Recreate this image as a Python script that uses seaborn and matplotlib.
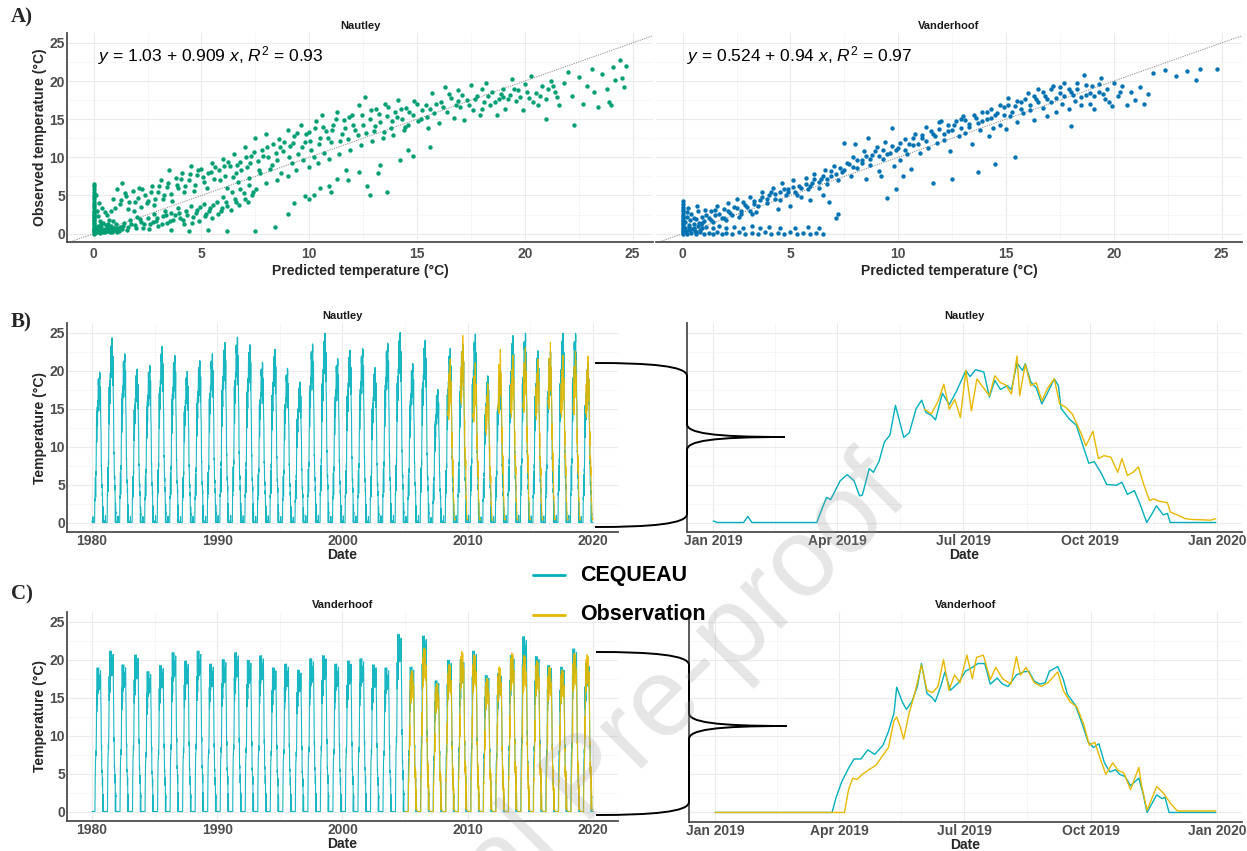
import numpy as np
import pandas as pd
import matplotlib
matplotlib.use("Agg")
import matplotlib.pyplot as plt
import matplotlib.dates as mdates
from matplotlib.lines import Line2D
from matplotlib.path import Path
from matplotlib.patches import PathPatch
import seaborn as sns

# ---- data ---------------------------------------------------------------
# A) observed vs predicted daily temperature (pred, obs)
nautley_pts = [
    (0, 0.0), (0, 0.15), (0, 0.3), (0, 0.45), (0, 0.6), (0, 0.8), (0, 1.0), (0, 1.2), (0, 1.4), (0, 1.6),
    (0, 1.8), (0, 2.0), (0, 2.2), (0, 2.4), (0, 2.6), (0, 2.8), (0, 3.0), (0, 3.3), (0, 3.6), (0, 3.9),
    (0, 4.2), (0, 4.5), (0, 4.8), (0, 5.1), (0, 5.4), (0, 5.8), (0, 6.2), (0, 6.5),
    (0.05, 0.1), (0.1, 0.4), (0.15, 0.2), (0.2, 0.7), (0.25, 0.3), (0.3, 0.1), (0.35, 0.9), (0.4, 0.5),
    (0.45, 0.2), (0.5, 0.6), (0.55, 1.1), (0.6, 0.3), (0.65, 0.8), (0.7, 0.5), (0.75, 0.2), (0.8, 1.0),
    (0.85, 0.6), (0.9, 0.3), (0.95, 0.8), (1.0, 0.5), (1.05, 1.2), (1.1, 0.7), (1.15, 0.4), (1.2, 0.9),
    (0.3, 1.6), (0.2, 2.3), (0.5, 2.8), (0.4, 3.4), (0.7, 1.8), (0.6, 2.5), (0.15, 3.0), (0.25, 4.0),
    (0.1, 5.0), (0.8, 2.9), (0.35, 1.3), (0.9, 1.6),
    (0.1, 0.8), (0.3, 0.6), (0.5, 0.2), (0.7, 0.9), (0.9, 0.5), (1.1, 0.2), (0.2, 1.0), (0.45, 1.4),
    (0.65, 1.2), (0.85, 0.2),
    (0.9, 4.6), (1.1, 5.8), (1.3, 6.6), (1.2, 3.9), (1.5, 4.9), (1.6, 3.2), (1.8, 5.6), (1.9, 4.2),
    (2.1, 6.0), (2.2, 3.5), (2.4, 5.0), (2.5, 4.3), (2.7, 6.3), (2.8, 3.8), (3.0, 5.4), (3.1, 7.0),
    (3.2, 4.6), (3.4, 6.1), (3.5, 8.4), (3.6, 5.2), (3.8, 7.3), (3.9, 6.0), (4.1, 8.0), (4.2, 5.5),
    (4.4, 7.0), (4.5, 8.8), (4.7, 6.4), (4.8, 7.7), (5.0, 8.5), (5.1, 6.8), (5.3, 7.9), (5.5, 9.3),
    (5.6, 7.2), (5.8, 8.4), (6.0, 9.8), (6.1, 7.6), (6.3, 8.9), (6.5, 10.4), (6.6, 8.0), (6.8, 9.4),
    (7.0, 11.3), (7.1, 8.7), (7.3, 10.2), (7.5, 12.6), (7.6, 9.5), (7.8, 11.0), (8.0, 13.0), (8.1, 10.1),
    (8.3, 11.7), (8.5, 9.6), (8.6, 12.4), (8.8, 10.8), (9.0, 13.6), (9.1, 11.5), (9.3, 12.8), (9.5, 10.4),
    (9.6, 14.2), (9.8, 12.0), (10.0, 13.3), (10.1, 11.0), (10.3, 14.8), (10.5, 12.5), (10.6, 15.6),
    (10.8, 13.4), (11.0, 12.0), (11.1, 14.3), (11.3, 16.0), (11.5, 13.0), (11.6, 14.9), (11.8, 12.4),
    (12.0, 15.5), (12.1, 13.6), (12.3, 16.8), (12.5, 14.2), (12.6, 17.9), (12.8, 15.0), (13.0, 13.5),
    (13.1, 16.3), (13.3, 14.6), (13.5, 17.0), (13.6, 15.4), (13.8, 13.9), (14.0, 16.0), (14.1, 17.5),
    (14.3, 15.0), (14.5, 16.5), (14.6, 14.3), (14.8, 15.6), (15.0, 17.0),
    (1.0, 3.4), (1.25, 4.4), (1.45, 5.3), (1.65, 4.1), (1.85, 3.0), (2.05, 4.7), (2.25, 5.8), (2.45, 4.0),
    (2.65, 5.5), (2.85, 4.6), (3.05, 6.2), (3.25, 5.0), (3.45, 6.7), (3.65, 4.3), (3.85, 6.4), (4.05, 7.2),
    (4.25, 6.3), (4.45, 7.8), (4.65, 5.6), (4.85, 8.3), (5.05, 7.4), (5.25, 6.0), (5.45, 8.1), (5.65, 8.7),
    (5.85, 7.0), (6.05, 8.8), (6.25, 9.4), (6.45, 7.4), (6.65, 9.0), (6.85, 8.3), (7.05, 10.0), (7.25, 9.2),
    (7.45, 10.7), (7.65, 8.4), (7.85, 10.2), (8.05, 11.4), (8.25, 9.0), (8.45, 10.6), (8.65, 11.3),
    (8.85, 12.0), (9.05, 10.0), (9.25, 11.9), (9.45, 13.2), (9.65, 11.3), (9.85, 13.0), (10.05, 12.2),
    (10.25, 13.8), (10.45, 11.8), (10.65, 14.0), (10.85, 12.6), (11.05, 13.6), (11.25, 15.0), (11.45, 12.2),
    (11.65, 13.9), (11.85, 15.3), (12.05, 14.2), (12.25, 12.9), (12.45, 15.6), (12.65, 13.2), (12.85, 16.2),
    (13.05, 14.1), (13.25, 15.7), (13.45, 13.3), (13.65, 16.6), (13.85, 14.7), (14.05, 15.3), (14.25, 16.4),
    (14.45, 14.0), (14.65, 15.9), (14.85, 17.4), (15.05, 14.8), (15.25, 16.2), (15.45, 15.3),
    (1.3, 0.6), (1.4, 1.4), (1.6, 0.9), (1.7, 1.8), (1.9, 1.1), (2.0, 2.2), (2.2, 1.5), (2.3, 0.8),
    (2.5, 2.0), (2.6, 1.2), (2.8, 2.6), (2.9, 1.7), (3.0, 1.0), (3.2, 2.3), (3.3, 3.0), (3.4, 1.4),
    (3.6, 2.7), (3.7, 1.8), (3.9, 3.3), (4.0, 2.1), (4.2, 1.2), (4.3, 2.9), (4.5, 3.6), (4.6, 2.2),
    (4.8, 3.1), (4.9, 1.6), (5.1, 3.9), (5.2, 2.6), (5.4, 3.3), (5.5, 2.0), (5.7, 4.2), (5.9, 3.0),
    (6.0, 4.8), (6.2, 3.6), (6.4, 5.4), (6.6, 4.1), (6.8, 5.9), (7.0, 4.6), (7.2, 6.4), (5.3, 0.5),
    (6.2, 0.4), (7.5, 0.3), (8.4, 0.9), (9.0, 2.6), (4.4, 0.3), (3.6, 0.5),
    (1.35, 1.0), (1.55, 0.5), (1.75, 1.3), (1.95, 0.7), (2.15, 1.9), (2.35, 1.2), (2.55, 0.6), (2.75, 1.5),
    (2.95, 2.1), (3.15, 1.2), (3.35, 2.5), (3.55, 1.6), (3.75, 2.4), (3.95, 2.7), (4.15, 1.8), (4.35, 2.5),
    (4.55, 1.4), (4.75, 2.7), (4.95, 3.5), (5.15, 2.3), (5.35, 2.9), (5.55, 3.7), (5.75, 2.6), (5.95, 3.4),
    (6.15, 4.1), (6.35, 3.1), (6.55, 4.6), (6.75, 3.7), (6.95, 5.3), (7.15, 4.2), (7.35, 5.0), (7.55, 5.8),
    (6.2, 6.0), (6.7, 6.8), (7.2, 7.3), (7.7, 7.9), (8.2, 8.5), (8.7, 8.0), (9.2, 9.2), (9.7, 9.6),
    (10.2, 10.1), (10.7, 10.6), (7.4, 5.5), (8.0, 6.6), (8.5, 7.0), (9.0, 7.6), (9.4, 8.3), (10.0, 8.7),
    (10.4, 9.2), (10.9, 9.8), (11.4, 10.5), (11.9, 11.0), (12.4, 11.6), (12.9, 12.1), (13.4, 12.5),
    (13.9, 12.9), (14.4, 13.6),
    (9.3, 4.0), (9.8, 4.9), (10.0, 4.5), (10.2, 5.1), (10.5, 6.0), (10.9, 6.2), (11.0, 5.5), (11.3, 7.2),
    (11.7, 8.3), (12.3, 8.1), (12.7, 6.2), (12.8, 5.1), (13.2, 7.9), (13.3, 9.0), (13.6, 5.5), (14.2, 9.6),
    (14.6, 11.0), (14.8, 10.2), (15.6, 11.4), (11.8, 7.0),
    (15.2, 15.0), (15.4, 16.8), (15.5, 13.8), (15.7, 18.4), (15.8, 15.8), (16.0, 14.5), (16.1, 17.2),
    (16.3, 19.2), (16.4, 16.0), (16.6, 17.8), (16.7, 15.2), (16.9, 18.8), (17.0, 16.6), (17.2, 14.9),
    (17.3, 17.5), (17.5, 19.5), (17.6, 16.2), (17.8, 18.0), (17.9, 15.6), (18.1, 17.2), (18.2, 19.8),
    (18.4, 16.8), (18.5, 18.5), (18.7, 15.5), (18.8, 17.6), (19.0, 19.0), (19.1, 16.4), (19.3, 18.2),
    (19.4, 20.3), (19.6, 17.4), (19.7, 18.8), (19.9, 16.2), (20.0, 19.6), (20.2, 17.8), (20.3, 20.6),
    (20.5, 18.4), (20.6, 16.9), (20.8, 19.3), (21.0, 15.0), (21.0, 17.6), (21.2, 20.0), (21.4, 18.6),
    (21.6, 16.8),
    (15.9, 17.0), (16.2, 16.6), (16.5, 18.3), (16.8, 16.9), (17.1, 18.2), (17.4, 16.8), (17.7, 17.7),
    (18.0, 16.4), (18.3, 18.0), (18.6, 17.2), (18.9, 18.3), (19.2, 17.6), (19.5, 19.0), (19.8, 17.9),
    (20.1, 18.6), (20.4, 17.3), (20.7, 18.0), (21.1, 18.9), (21.3, 19.4), (21.5, 17.9), (15.6, 16.4),
    (16.9, 17.4), (18.0, 19.0), (19.0, 17.9),
    (21.8, 19.8), (22.0, 21.2), (22.2, 18.0), (22.3, 14.3), (22.5, 20.5), (22.7, 17.0), (22.9, 19.4),
    (23.1, 21.6), (23.2, 18.6), (23.4, 16.6), (23.6, 20.9), (23.8, 19.0), (23.9, 17.3), (24.0, 16.8),
    (24.1, 21.8), (24.2, 20.2), (24.4, 22.8), (24.5, 20.4), (24.7, 22.0), (24.6, 19.2),
]

vanderhoof_pts = [
    (0, 0.0), (0, 0.2), (0, 0.4), (0, 0.6), (0, 0.8), (0, 1.0), (0, 1.2), (0, 1.4), (0, 1.6), (0, 1.8),
    (0, 2.0), (0, 2.3), (0, 2.6), (0, 2.9), (0, 3.2), (0, 3.5), (0, 3.9), (0, 4.3),
    (0.2, 0.0), (0.4, 0.1), (0.6, 0.0), (0.8, 0.2), (1.0, 0.0), (1.2, 0.1), (1.4, 0.0), (1.6, 0.2),
    (1.8, 0.0), (2.0, 0.1), (2.3, 0.0), (2.6, 0.2), (2.9, 0.0), (3.2, 0.1), (3.5, 0.0), (3.8, 0.2),
    (4.1, 0.0), (4.4, 0.1), (4.7, 0.0), (5.0, 0.2), (5.3, 0.0), (5.6, 0.1), (5.9, 0.0), (6.2, 0.1), (6.5, 0.0),
    (0.1, 0.8), (0.3, 0.9), (0.5, 0.7), (0.7, 1.0), (0.9, 0.8), (1.1, 0.9), (1.4, 0.8), (1.7, 1.0),
    (2.0, 0.8), (2.4, 0.9), (2.8, 0.8), (3.2, 1.0), (3.6, 0.8), (4.0, 0.9), (4.5, 0.7), (5.2, 0.8),
    (5.8, 0.9), (6.3, 0.7),
    (0.1, 1.5), (0.2, 2.2), (0.3, 0.5), (0.35, 1.8), (0.4, 2.6), (0.5, 1.2), (0.55, 0.4), (0.6, 1.9),
    (0.7, 2.9), (0.75, 1.4), (0.8, 0.5), (0.9, 2.2), (1.0, 1.6), (1.05, 3.1), (0.25, 3.3), (0.65, 3.6),
    (0.15, 0.3), (0.45, 0.6), (0.6, 0.2), (0.85, 1.2), (0.3, 1.1), (0.5, 2.0), (0.9, 1.4), (0.2, 2.8),
    (1.2, 2.0), (1.3, 3.0), (1.5, 2.5), (1.6, 3.6), (1.8, 2.1), (1.9, 3.2), (2.1, 4.0), (2.2, 2.7),
    (2.4, 3.5), (2.5, 4.6), (2.7, 3.0), (2.8, 4.1), (3.0, 3.5), (3.1, 4.8), (3.3, 3.9), (3.4, 2.8),
    (1.4, 1.5), (2.0, 1.8), (2.6, 2.2), (3.2, 2.6),
    (1.1, 2.4), (1.3, 1.8), (1.5, 3.1), (1.7, 2.6), (1.9, 2.0), (2.1, 3.0), (2.3, 2.4), (2.5, 3.4),
    (2.7, 2.6), (2.9, 3.7), (3.1, 3.0), (3.3, 4.3), (3.5, 3.6), (3.7, 4.8), (3.9, 4.6), (4.1, 5.5),
    (4.3, 5.2), (4.5, 4.4), (4.7, 5.8), (4.9, 5.4), (5.1, 6.1), (5.3, 5.0), (5.5, 6.0), (5.7, 6.5),
    (5.9, 6.2), (6.1, 7.1), (6.3, 6.8), (6.5, 7.5), (6.7, 7.2), (6.9, 8.2), (7.1, 7.8), (7.3, 8.6),
    (7.5, 8.4), (7.7, 9.1), (7.9, 8.7), (8.1, 9.6), (8.3, 9.2), (8.5, 10.2), (8.7, 9.8), (8.9, 10.8),
    (9.1, 10.2), (9.3, 11.0), (9.5, 10.5), (9.7, 11.5), (9.9, 10.9), (10.1, 11.9), (10.3, 11.0),
    (10.5, 11.8), (10.7, 12.5), (10.9, 11.7), (11.1, 12.9), (11.3, 12.1), (11.5, 13.4), (11.7, 12.8),
    (11.9, 13.7), (12.1, 13.1), (12.3, 14.3), (12.5, 13.6), (12.7, 14.7), (12.9, 13.9), (13.1, 14.9),
    (13.3, 14.0), (13.5, 15.6), (13.7, 14.5), (13.9, 15.9), (14.1, 15.0), (14.3, 16.3), (14.5, 15.5),
    (14.7, 16.8), (14.9, 15.6), (15.1, 16.9), (15.3, 16.0), (15.5, 17.4), (15.7, 16.4), (15.9, 17.6),
    (16.1, 16.9), (16.3, 18.1), (16.5, 17.2), (16.7, 18.6), (16.9, 17.6), (17.1, 18.9), (17.3, 17.8),
    (17.5, 19.2), (17.7, 18.1), (17.9, 19.0), (18.1, 18.2), (18.3, 18.9), (18.5, 17.9), (18.7, 19.5),
    (18.9, 18.4), (19.1, 18.0), (19.3, 19.6), (19.5, 18.3), (19.8, 17.3), (20.3, 18.6),
    (3.6, 4.4), (3.7, 5.5), (3.9, 4.0), (4.0, 5.0), (4.2, 6.0), (4.3, 4.6), (4.5, 5.4), (4.6, 6.6),
    (4.8, 5.0), (4.9, 5.9), (5.1, 7.0), (5.2, 5.4), (5.4, 6.3), (5.5, 4.8), (5.7, 7.3), (5.8, 5.8),
    (6.0, 6.7), (6.1, 7.8), (6.3, 6.0), (6.4, 7.1), (6.6, 8.3), (6.7, 6.5), (6.9, 7.6), (7.0, 8.8),
    (7.2, 7.0), (5.0, 3.6), (5.9, 4.4), (6.5, 5.0), (4.4, 3.2), (7.1, 2.0), (7.2, 2.6), (6.8, 4.2),
    (7.4, 8.1), (7.5, 11.9), (7.6, 9.2), (7.8, 7.6), (7.9, 10.0), (8.0, 11.8), (8.1, 8.6), (8.3, 9.6),
    (8.4, 10.8), (8.6, 12.5), (8.7, 9.0), (8.8, 10.3), (9.0, 11.4), (9.1, 8.2), (9.3, 9.8), (9.4, 12.0),
    (9.5, 4.7), (9.6, 10.6), (9.7, 13.8), (9.8, 8.8), (9.9, 5.9), (10.0, 11.2), (10.1, 9.6), (10.3, 12.4),
    (10.4, 10.4), (10.6, 8.5), (10.7, 11.6), (10.8, 13.0), (8.5, 7.2), (9.2, 7.5), (10.2, 7.6),
    (11.0, 10.6), (11.1, 12.6), (11.3, 14.0), (11.4, 11.2), (11.6, 6.7), (11.6, 13.0), (11.8, 11.9),
    (11.9, 14.6), (12.0, 14.7), (12.1, 12.3), (12.3, 13.5), (12.4, 10.8), (12.5, 7.1), (12.6, 14.2),
    (12.8, 12.8), (12.9, 15.0), (13.0, 15.4), (13.1, 13.2), (13.3, 14.4), (13.4, 11.8), (13.6, 15.2),
    (13.7, 8.1), (13.8, 13.6), (13.9, 14.8), (14.1, 16.0), (14.2, 12.8), (14.3, 15.1), (14.4, 13.9),
    (14.5, 9.1), (14.6, 15.8), (14.7, 14.2), (14.9, 16.6), (15.0, 13.7), (15.1, 17.8), (15.2, 15.4),
    (15.4, 10.1), (15.4, 16.7), (15.5, 14.6), (15.7, 17.2), (15.8, 15.8), (16.0, 18.4), (16.1, 16.2),
    (16.3, 14.9), (16.4, 17.6), (16.5, 19.0), (16.7, 16.5), (16.8, 18.0), (16.9, 15.4), (17.1, 17.2),
    (17.2, 19.3), (17.3, 16.0), (17.5, 18.4), (17.6, 17.0), (17.7, 19.7), (17.9, 16.4), (18.0, 14.1),
    (18.0, 18.6),
    (18.2, 17.4), (18.3, 19.8), (18.5, 16.8), (18.6, 20.8), (18.7, 18.2), (18.9, 17.0), (19.0, 19.4),
    (19.1, 16.3), (19.3, 18.5), (19.4, 20.4), (19.6, 17.6), (19.7, 18.9), (19.9, 16.7), (20.0, 19.8),
    (20.2, 18.0), (20.4, 19.3), (20.6, 16.9), (20.8, 18.6), (21.0, 17.5), (21.2, 19.2), (21.4, 17.0),
    (21.8, 21.0), (21.6, 18.3),
    (22.4, 21.4), (22.9, 20.6), (23.4, 21.3), (23.8, 20.1), (24.0, 21.6), (24.8, 21.6),
]

# 2019 daily series (day of year, temperature)
nautley_ceq_2019 = [
    (0, 0.2), (3, 0), (22, 0), (25, 0.8), (28, 0), (75, 0), (82, 3.3), (85, 3.0), (92, 5.5), (97, 6.3),
    (102, 5.5), (106, 3.5), (108, 3.6), (113, 7.1), (116, 6.6), (120, 8.0), (124, 10.6), (128, 11.5),
    (132, 15.4), (134, 14.0), (138, 11.2), (142, 11.8), (147, 15.0), (151, 16.1), (154, 14.5), (158, 14.1),
    (161, 13.5), (166, 17.0), (171, 15.5), (176, 17.2), (183, 20.0), (186, 19.2), (190, 20.1), (196, 19.8),
    (200, 16.5), (204, 18.7), (208, 17.5), (213, 18.0), (216, 17.5), (220, 21.0), (224, 20.0), (226, 20.9),
    (230, 18.5), (234, 17.7), (238, 15.6), (242, 17.0), (247, 18.9), (250, 18.0), (252, 15.0), (258, 13.6),
    (263, 12.8), (268, 10.0), (272, 7.8), (276, 8.0), (281, 6.5), (285, 5.0), (292, 4.9), (296, 5.3),
    (300, 3.7), (305, 4.2), (309, 2.5), (314, 0), (318, 1.2), (321, 2.2), (326, 1.0), (329, 1.2),
    (331, 0), (364, 0),
]
nautley_obs_2019 = [
    (153, 14.9), (158, 14.3), (163, 16.0), (167, 18.2), (171, 14.9), (175, 16.2), (179, 13.8), (183, 20.0),
    (187, 14.7), (191, 18.9), (195, 17.9), (200, 16.7), (204, 19.3), (208, 18.4), (212, 18.1), (216, 16.9),
    (220, 21.9), (222, 16.7), (226, 20.8), (230, 18.0), (234, 18.4), (238, 16.0), (242, 17.6), (247, 18.9),
    (251, 15.6), (255, 15.2), (260, 14.3), (266, 11.9), (270, 10.1), (275, 12.0), (279, 8.4), (283, 8.8),
    (288, 8.6), (293, 6.6), (296, 8.4), (300, 6.2), (304, 6.6), (308, 7.3), (312, 4.9), (316, 2.9),
    (319, 3.1), (323, 2.8), (329, 2.6), (331, 1.4), (336, 1.0), (342, 0.5), (347, 0.4), (355, 0.35),
    (360, 0.3), (364, 0.5),
]
vanderhoof_ceq_2019 = [
    (0, 0), (85, 0), (88, 2.0), (92, 4.0), (97, 5.8), (101, 7.0), (106, 7.0), (111, 8.2), (116, 7.6),
    (122, 8.8), (126, 10.6), (130, 13.0), (132, 16.4), (136, 14.5), (139, 13.5), (143, 14.5), (147, 16.5),
    (150, 19.5), (154, 15.6), (158, 15.0), (160, 14.5), (164, 16.5), (167, 18.4), (171, 16.0), (177, 17.0),
    (182, 18.5), (187, 19.0), (191, 19.5), (196, 19.5), (200, 16.8), (205, 17.6), (209, 16.8), (213, 16.5),
    (219, 18.0), (224, 18.4), (228, 18.5), (232, 17.2), (236, 16.8), (240, 17.0), (243, 18.5), (249, 19.1),
    (253, 17.5), (256, 15.5), (262, 14.0), (267, 11.5), (271, 9.3), (275, 8.5), (279, 9.0), (283, 6.5),
    (287, 5.3), (291, 5.6), (294, 5.0), (298, 4.7), (302, 3.5), (308, 4.5), (311, 2.5), (314, 0),
    (321, 2.3), (325, 1.8), (327, 2.0), (330, 0), (364, 0),
]
vanderhoof_obs_2019 = [
    (0, 0), (94, 0), (97, 3.0), (100, 4.5), (103, 4.3), (107, 5.0), (111, 5.5), (117, 6.2), (122, 7.5),
    (126, 8.5), (130, 12.0), (132, 12.5), (135, 11.0), (137, 9.6), (141, 13.0), (145, 15.5), (150, 19.3),
    (154, 16.0), (158, 15.7), (162, 16.5), (166, 20.0), (170, 16.0), (174, 18.0), (178, 17.0), (183, 20.6),
    (187, 17.5), (190, 20.3), (195, 20.6), (200, 17.4), (204, 19.0), (209, 17.5), (215, 16.8), (219, 20.4),
    (222, 18.0), (226, 19.0), (232, 17.0), (237, 16.5), (242, 17.0), (249, 18.4), (253, 16.0), (258, 14.5),
    (263, 13.8), (268, 11.5), (272, 8.8), (276, 9.2), (280, 7.0), (284, 5.0), (289, 6.5), (293, 5.5),
    (297, 5.2), (302, 3.0), (308, 5.9), (310, 3.5), (314, 0.3), (321, 3.4), (326, 2.5), (331, 1.2),
    (336, 0.2), (364, 0.2),
]

# annual summer peaks of the 1980-2019 series
years = list(range(1980, 2020))
nautley_ceq_peaks = [19.8, 24.3, 22.2, 20.2, 20.7, 23.2, 22.0, 19.9, 21.3, 22.2,
                     23.7, 24.4, 23.4, 21.1, 22.8, 20.3, 18.5, 23.5, 24.9, 21.6,
                     22.7, 22.9, 20.4, 23.6, 25.0, 20.9, 24.0, 17.5, 22.9, 23.5,
                     24.8, 19.3, 20.0, 24.6, 24.9, 22.6, 22.5, 24.9, 24.9, 21.0]
nautley_obs_years = list(range(2008, 2020))
nautley_obs_peaks = [21.5, 24.6, 21.0, 18.3, 22.8, 22.0, 23.0, 21.5, 23.7, 22.0, 22.5, 21.9]
vanderhoof_ceq_peaks = [18.9, 21.1, 19.3, 20.6, 18.4, 19.2, 20.9, 19.8, 21.1, 19.4,
                        20.0, 20.9, 19.9, 20.5, 18.9, 19.4, 18.6, 20.1, 20.5, 19.4,
                        19.8, 20.1, 19.3, 18.9, 23.3, 19.0, 23.1, 17.2, 19.9, 20.0,
                        21.1, 17.9, 18.2, 20.5, 23.0, 20.4, 19.2, 19.0, 21.4, 19.5]
vanderhoof_obs_years = list(range(2005, 2020))
vanderhoof_obs_peaks = [18.5, 21.5, 16.8, 19.3, 21.0, 20.6, 17.5, 19.0, 20.8, 20.5,
                        19.8, 19.0, 18.6, 20.8, 20.6]

CEQ = "#00AFBB"
OBS = "#E7B800"
GREEN = "#009E73"
BLUE = "#0072B2"
AXCOL = "#4D4D4D"

sns.set_theme(style="white")
plt.rcParams["font.family"] = ["Liberation Sans", "DejaVu Sans"]
plt.rcParams["mathtext.fontset"] = "custom"
plt.rcParams["mathtext.rm"] = "Liberation Sans"
plt.rcParams["mathtext.it"] = "Liberation Sans:italic"

W, H = 1247, 851
fig = plt.figure(figsize=(W / 100, H / 100), dpi=100)


def box(x0, y0, x1, y1):
    return fig.add_axes([x0 / W, 1 - y1 / H, (x1 - x0) / W, (y1 - y0) / H])


def fxy(x, y):
    return x / W, 1 - y / H


def year_frame(pairs, yrs, peaks):
    d = np.array([p[0] for p in pairs], float)
    v = np.array([p[1] for p in pairs], float)
    top = v.max()
    out = []
    for yr, pk in zip(yrs, peaks):
        out.append(pd.DataFrame({
            "date": pd.Timestamp(f"{yr}-01-01") + pd.to_timedelta(d, unit="D"),
            "temp": v * pk / top,
            "year": yr,
        }))
    return pd.concat(out, ignore_index=True)


def style(ax, left_spine=True):
    ax.set_facecolor("white")
    ax.set_axisbelow(True)
    for s in ["top", "right"]:
        ax.spines[s].set_visible(False)
    ax.spines["bottom"].set_color(AXCOL)
    ax.spines["bottom"].set_linewidth(1.3)
    ax.spines["left"].set_visible(left_spine)
    ax.spines["left"].set_color(AXCOL)
    ax.spines["left"].set_linewidth(1.3)
    ax.grid(which="major", color="#EBEBEB", lw=0.8)
    ax.grid(which="minor", color="#F3F3F3", lw=0.5)
    ax.tick_params(which="both", length=0, labelsize=10, labelcolor=AXCOL)


def set_yaxis(ax, lo, hi, show):
    ax.set_ylim(lo, hi)
    ax.set_yticks([0, 5, 10, 15, 20, 25], labels=["0", "5", "10", "15", "20", "25"], fontweight="bold")
    ax.set_yticks([2.5, 7.5, 12.5, 17.5, 22.5], minor=True)
    ax.tick_params(axis="y", pad=1.5, labelleft=show)


# ---- A) scatter panels -------------------------------------------------------
def scatter_panel(ax, pts, col, title, eq, ylab):
    df = pd.DataFrame(pts, columns=["pred", "obs"])
    ax.axline((0, 0), slope=1, color="#8C8C8C", lw=0.7, ls=(0, (1.2, 1.2)), zorder=1)
    sns.scatterplot(data=df, x="pred", y="obs", color=col, s=10, linewidth=0, ax=ax, zorder=2)
    ax.set_xlim(-1.24, 25.95)
    ax.set_xticks([0, 5, 10, 15, 20, 25], labels=["0", "5", "10", "15", "20", "25"], fontweight="bold")
    ax.set_xticks([2.5, 7.5, 12.5, 17.5, 22.5], minor=True)
    style(ax, left_spine=ylab)
    set_yaxis(ax, -1.1, 26.3, ylab)
    ax.tick_params(axis="x", pad=3.5)
    ax.set_title(title, fontsize=8, fontweight="bold", color="#1A1A1A", pad=3)
    ax.set_xlabel("Predicted temperature (°C)", fontsize=10, fontweight="bold", labelpad=2)
    ax.set_ylabel("Observed temperature (°C)" if ylab else "", fontsize=10, fontweight="bold", labelpad=2)
    ax.text(0.2, 23.3, eq, fontsize=12.5, va="center", ha="left", color="black")


axA1 = box(67, 33, 653, 242)
axA2 = box(656, 33, 1242, 242)
scatter_panel(axA1, nautley_pts, GREEN, "Nautley", r"$y$ = 1.03 + 0.909 $x$, $R^2$ = 0.93", True)
scatter_panel(axA2, vanderhoof_pts, BLUE, "Vanderhoof", r"$y$ = 0.524 + 0.94 $x$, $R^2$ = 0.97", False)


# ---- B) / C) time series panels ------------------------------------------------
def long_panel(ax, ceq_df, obs_df, title):
    sns.lineplot(data=ceq_df, x="date", y="temp", units="year", estimator=None,
                 color=CEQ, lw=0.8, alpha=0.9, ax=ax)
    sns.lineplot(data=obs_df, x="date", y="temp", units="year", estimator=None,
                 color=OBS, lw=0.8, alpha=0.9, ax=ax)
    ax.set_xlim(mdates.date2num(pd.Timestamp("1978-01-01")), mdates.date2num(pd.Timestamp("2021-12-31")))
    yrs = [1980, 1990, 2000, 2010, 2020]
    ax.set_xticks([mdates.date2num(pd.Timestamp(f"{y}-01-01")) for y in yrs],
                  labels=[str(y) for y in yrs], fontweight="bold")
    ax.set_xticks([mdates.date2num(pd.Timestamp(f"{y}-01-01")) for y in [1985, 1995, 2005, 2015]], minor=True)
    style(ax)
    set_yaxis(ax, -1.25, 26.25, True)
    ax.tick_params(axis="x", pad=1.5)
    ax.set_title(title, fontsize=8, fontweight="bold", color="#1A1A1A", pad=3)
    ax.set_xlabel("Date", fontsize=10, fontweight="bold", labelpad=0)
    ax.set_ylabel("Temperature (°C)", fontsize=10, fontweight="bold", labelpad=2)


def zoom_panel(ax, ceq_df, obs_df, title):
    sns.lineplot(data=ceq_df, x="date", y="temp", units="year", estimator=None, color=CEQ, lw=1.0, ax=ax)
    sns.lineplot(data=obs_df, x="date", y="temp", units="year", estimator=None, color=OBS, lw=1.0, ax=ax)
    ax.set_xlim(mdates.date2num(pd.Timestamp("2018-12-13")), mdates.date2num(pd.Timestamp("2020-01-19")))
    majors = ["2019-01-01", "2019-04-01", "2019-07-01", "2019-10-01", "2020-01-01"]
    ax.set_xticks([mdates.date2num(pd.Timestamp(m)) for m in majors],
                  labels=[pd.Timestamp(m).strftime("%b %Y") for m in majors], fontweight="bold")
    minors = ["2019-02-15", "2019-05-16", "2019-08-16", "2019-11-16"]
    ax.set_xticks([mdates.date2num(pd.Timestamp(m)) for m in minors], minor=True)
    style(ax)
    set_yaxis(ax, -1.25, 26.25, False)
    ax.tick_params(axis="x", pad=1.5)
    ax.set_title(title, fontsize=8, fontweight="bold", color="#1A1A1A", pad=3)
    ax.set_xlabel("Date", fontsize=10, fontweight="bold", labelpad=0)
    ax.set_ylabel("")


nau_ceq_long = year_frame(nautley_ceq_2019, years, nautley_ceq_peaks)
nau_obs_long = year_frame(nautley_obs_2019, nautley_obs_years, nautley_obs_peaks)
van_ceq_long = year_frame(vanderhoof_ceq_2019, years, vanderhoof_ceq_peaks)
van_obs_long = year_frame(vanderhoof_obs_2019, vanderhoof_obs_years, vanderhoof_obs_peaks)

axB1 = box(67, 323, 618, 532)
axB2 = box(687, 323, 1242, 532)
axC1 = box(67, 612, 618, 821)
axC2 = box(689, 612, 1242, 822)

long_panel(axB1, nau_ceq_long, nau_obs_long, "Nautley")
zoom_panel(axB2, nau_ceq_long[nau_ceq_long.year == 2019], nau_obs_long[nau_obs_long.year == 2019], "Nautley")
long_panel(axC1, van_ceq_long, van_obs_long, "Vanderhoof")
zoom_panel(axC2, van_ceq_long[van_ceq_long.year == 2019], van_obs_long[van_obs_long.year == 2019], "Vanderhoof")


# ---- braces linking the two columns -----------------------------------------------
def brace(x0, top, bot, xv, tip_x, tip_y):
    pts = [(x0, top), (x0 + 0.6 * (xv - x0), top), (xv, top + 3), (xv, top + 13),
           (xv, tip_y - 13), (xv, tip_y - 4), (xv + 25, tip_y), (tip_x, tip_y),
           (xv + 25, tip_y), (xv, tip_y + 4), (xv, tip_y + 13),
           (xv, bot - 13), (xv, bot - 3), (x0 + 0.6 * (xv - x0), bot), (x0, bot)]
    codes = [Path.MOVETO, Path.CURVE4, Path.CURVE4, Path.CURVE4,
             Path.LINETO, Path.CURVE4, Path.CURVE4, Path.CURVE4,
             Path.CURVE4, Path.CURVE4, Path.CURVE4,
             Path.LINETO, Path.CURVE4, Path.CURVE4, Path.CURVE4]
    path = Path([fxy(x, y) for x, y in pts], codes)
    fig.add_artist(PathPatch(path, fill=False, lw=1.4, color="black", transform=fig.transFigure))


brace(595, 363, 527, 687, 785, 437)
brace(596, 652, 815, 689, 787, 726)

# ---- legend ------------------------------------------------------------------------
for yy, col, lab in [(575, CEQ, "CEQUEAU"), (615, OBS, "Observation")]:
    fig.add_artist(Line2D([533 / W, 565 / W], [1 - yy / H] * 2, color=col, lw=2, transform=fig.transFigure))
    fig.text(*fxy(580, yy), lab, fontsize=15.5, fontweight="bold", va="center", ha="left", color="black")

# ---- panel letters ---------------------------------------------------------------------
for yy, lab in [(17, "A)"), (322, "B)"), (594, "C)")]:
    fig.text(*fxy(11, yy), lab, fontsize=15, fontweight="bold", family="Liberation Serif",
             va="center", ha="left")

# ---- watermark (runs off the lower edge, as in the source) ------------------------------
fig.text(*fxy(588, 782), "Journal Pre-proof", rotation=45, fontsize=80, color="#9A9A9A", alpha=0.25,
         ha="center", va="center", rotation_mode="anchor", zorder=10)

fig.savefig("out.png", dpi=100, facecolor="white")
